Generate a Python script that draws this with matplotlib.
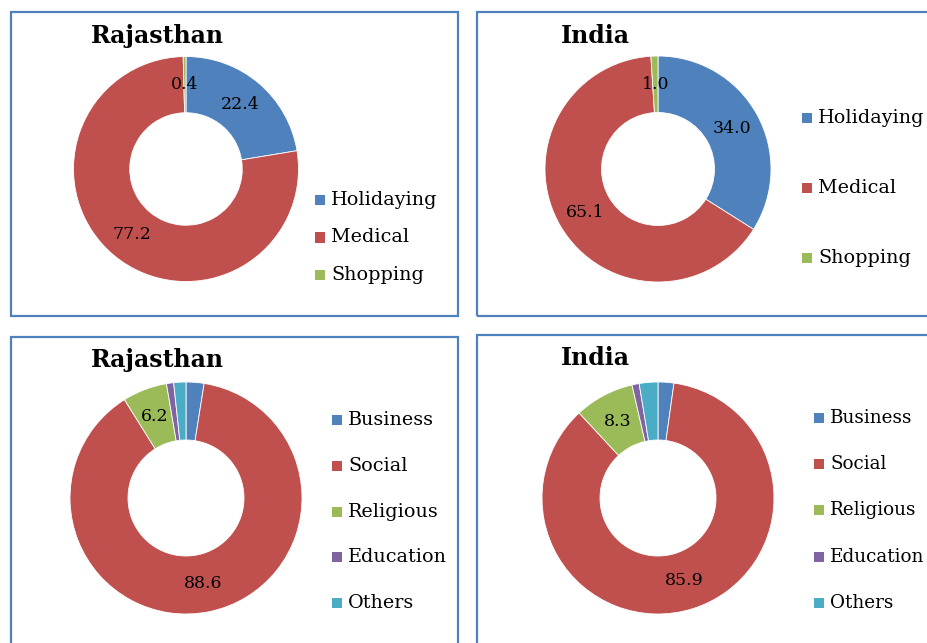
import matplotlib
matplotlib.use("Agg")
import matplotlib.pyplot as plt
from matplotlib.patches import Rectangle
import numpy as np

W, H = 927, 643
DPI = 100

purpose_labels = ["Holidaying", "Medical", "Shopping"]
purpose_raj = [22.4, 77.2, 0.4]
purpose_ind = [34.0, 65.1, 1.0]

visit_labels = ["Business", "Social", "Religious", "Education", "Others"]
visit_raj = [2.5, 88.6, 6.2, 1.0, 1.7]
visit_ind = [2.2, 85.9, 8.3, 1.0, 2.6]

colors = ["#4F81BD", "#C0504D", "#9BBB59", "#8064A2", "#4BACC6"]
border = "#4F81BD"
SERIF = ["DejaVu Serif"]

fig = plt.figure(figsize=(W / DPI, H / DPI), dpi=DPI)
fig.patch.set_facecolor("white")


def px_rect(x0, y0, x1, y1):
    fig.add_artist(Rectangle((x0 / W, 1 - y1 / H), (x1 - x0) / W, (y1 - y0) / H,
                             transform=fig.transFigure, fill=False,
                             edgecolor=border, linewidth=1.6))


# panel frames
px_rect(11, 12, 458, 316)
px_rect(477, 12, 945, 316)
px_rect(11, 337, 458, 660)
px_rect(477, 335, 945, 660)


def donut(cx, cy, r, values, labels, shown, title, tx, ty, lx, ly, ldy, fs_lab, fs_leg=13.8):
    ax = fig.add_axes([(cx - r) / W, 1 - (cy + r) / H, 2 * r / W, 2 * r / H])
    wedges, _ = ax.pie(values, colors=colors[:len(values)], startangle=90,
                       counterclock=False, radius=1.0,
                       wedgeprops=dict(width=0.5, edgecolor="white", linewidth=0.6))
    ax.set_xlim(-1, 1)
    ax.set_ylim(-1, 1)
    ax.axis("off")
    for w, v, s in zip(wedges, values, shown):
        if not s:
            continue
        ang = np.deg2rad((w.theta1 + w.theta2) / 2)
        ax.text(0.75 * np.cos(ang), 0.75 * np.sin(ang), f"{v:.1f}",
                ha="center", va="center", fontsize=fs_lab, family=SERIF, color="black")
    fig.text(tx / W, 1 - ty / H, title, ha="center", va="center",
             fontsize=17, fontweight="bold", family=SERIF)
    for i, lab in enumerate(labels):
        y = ly + i * ldy
        fig.add_artist(Rectangle(((lx) / W, 1 - (y + 5) / H), 10 / W, 10 / H,
                                 transform=fig.transFigure, facecolor=colors[i],
                                 edgecolor="none"))
        fig.text((lx + 16) / W, 1 - y / H, lab, ha="left", va="center",
                 fontsize=fs_leg, family=SERIF)


donut(186, 169, 112.5, purpose_raj, purpose_labels, [True, True, True],
      "Rajasthan", 157, 36, 315, 200, 37.5, 12.5)
donut(658, 169, 113, purpose_ind, purpose_labels, [True, True, True],
      "India", 595, 36, 802, 118, 70, 12.5)
donut(186, 498, 116, visit_raj, visit_labels, [False, True, True, False, False],
      "Rajasthan", 157, 360, 332, 420, 45.8, 12.5)
donut(658, 498, 116, visit_ind, visit_labels, [False, True, True, False, False],
      "India", 595, 358, 814, 418, 46.2, 12.5, fs_leg=13.2)

fig.savefig("out.png", dpi=DPI, facecolor="white")
